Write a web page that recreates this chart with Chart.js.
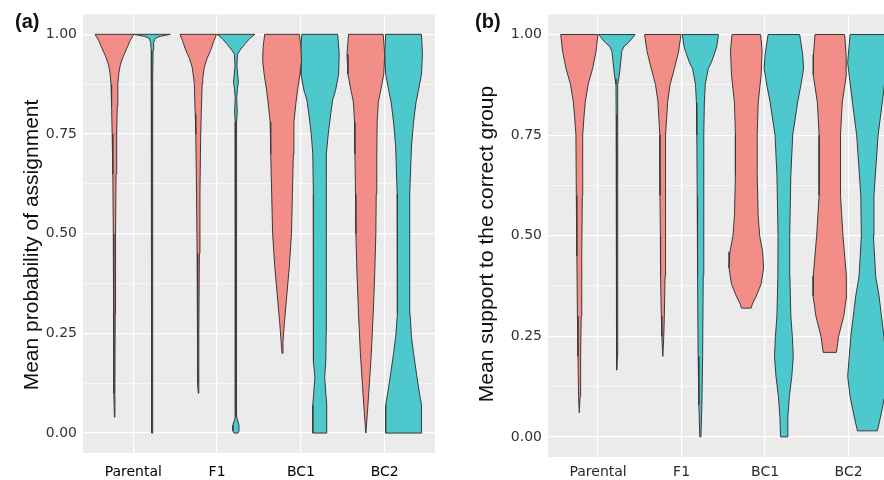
<!DOCTYPE html>
<html>
<head>
<meta charset="utf-8">
<script src="https://cdn.jsdelivr.net/npm/chart.js@4.4.1/dist/chart.umd.min.js"></script>
<style>
  html, body { margin: 0; padding: 0; background: #fff; }
  #wrap { position: relative; width: 884px; height: 480px; overflow: hidden; }
  canvas { position: absolute; top: 0; }
</style>
</head>
<body>
<div id="wrap">
  <canvas id="chartA" width="440" height="480" style="left:0"></canvas>
  <canvas id="chartB" width="444" height="480" style="left:440px"></canvas>
</div>
<script>
// categories and y ticks
const groups = ["Parental", "F1", "BC1", "BC2"];
const yMajor = [0, 0.25, 0.5, 0.75, 1];
const yMinor = [0.125, 0.375, 0.625, 0.875];

// violin outlines: [value, relative half-width]
// panel (a) - mean probability of assignment
const aPinkParental = [[1.00,1.03],[0.985,0.84],[0.965,0.66],[0.945,0.47],[0.925,0.32],[0.905,0.24],[0.875,0.18],[0.82,0.15],[0.75,0.12],[0.65,0.085],[0.5,0.06],[0.3,0.04],[0.1,0.025],[0.04,0]];
const aCyanParental = [[1.00,0.97],[0.995,0.42],[0.99,0.16],[0.98,0.08],[0.96,0.05],[0.9,0.03],[0.0,0.02]];
const aPinkF1 = [[1.00,0.97],[0.985,0.84],[0.96,0.66],[0.94,0.47],[0.917,0.32],[0.89,0.24],[0.877,0.21],[0.8,0.16],[0.75,0.13],[0.6,0.09],[0.45,0.06],[0.25,0.04],[0.12,0.02],[0.10,0]];
const aCyanF1 = [[1.00,1.0],[0.99,0.74],[0.977,0.5],[0.96,0.21],[0.95,0.08],[0.92,0.05],[0.895,0.1],[0.88,0.13],[0.865,0.08],[0.84,0.04],[0.805,0.07],[0.78,0.04],[0.5,0.03],[0.2,0.025],[0.04,0.04],[0.02,0.16],[0.005,0.16],[0.0,0.1]];
const aPinkBC1 = [[1.00,0.92],[0.97,1.0],[0.935,1.03],[0.9,0.95],[0.86,0.82],[0.83,0.74],[0.78,0.63],[0.7,0.6],[0.6,0.55],[0.5,0.5],[0.42,0.39],[0.35,0.26],[0.28,0.13],[0.23,0.05],[0.2,0]];
const aCyanBC1 = [[1.00,0.95],[0.95,1.03],[0.9,1.0],[0.86,0.84],[0.835,0.68],[0.8,0.58],[0.75,0.45],[0.7,0.37],[0.6,0.34],[0.5,0.34],[0.35,0.34],[0.25,0.34],[0.18,0.32],[0.14,0.26],[0.1,0.32],[0.07,0.37],[0.0,0.37]];
const aPinkBC2 = [[1.00,0.92],[0.95,1.0],[0.9,0.95],[0.86,0.79],[0.83,0.66],[0.78,0.6],[0.7,0.58],[0.6,0.55],[0.5,0.53],[0.4,0.47],[0.3,0.39],[0.2,0.29],[0.12,0.18],[0.05,0.08],[0.0,0]];
const aCyanBC2 = [[1.00,0.95],[0.95,1.0],[0.9,0.95],[0.86,0.79],[0.83,0.66],[0.78,0.53],[0.72,0.42],[0.6,0.34],[0.5,0.32],[0.4,0.32],[0.3,0.34],[0.24,0.42],[0.2,0.53],[0.15,0.68],[0.1,0.84],[0.07,0.95],[0.0,0.95]];

// panel (b) - mean support to the correct group
const bPinkParental = [[1.00,0.99],[0.958,0.89],[0.916,0.71],[0.876,0.47],[0.834,0.32],[0.79,0.24],[0.75,0.18],[0.6,0.16],[0.45,0.13],[0.3,0.1],[0.2,0.07],[0.1,0.04],[0.06,0]];
const bCyanParental = [[1.00,0.97],[0.98,0.62],[0.97,0.37],[0.958,0.26],[0.916,0.17],[0.89,0.1],[0.876,0.05],[0.8,0.04],[0.5,0.04],[0.2,0.03],[0.166,0]];
const bPinkF1 = [[1.00,0.97],[0.958,0.84],[0.916,0.62],[0.876,0.39],[0.834,0.26],[0.75,0.16],[0.6,0.15],[0.5,0.13],[0.4,0.12],[0.3,0.08],[0.25,0.05],[0.2,0]];
const bCyanF1 = [[1.00,0.96],[0.97,0.87],[0.958,0.79],[0.93,0.58],[0.916,0.42],[0.876,0.26],[0.83,0.21],[0.75,0.19],[0.6,0.17],[0.4,0.15],[0.2,0.12],[0.08,0.08],[0.0,0.03]];
const bPinkBC1 = [[1.00,0.76],[0.96,0.84],[0.9,0.79],[0.83,0.63],[0.75,0.58],[0.65,0.58],[0.55,0.63],[0.5,0.71],[0.46,0.87],[0.42,0.92],[0.38,0.79],[0.35,0.53],[0.33,0.32],[0.32,0.26]];
const bCyanBC1 = [[1.00,0.84],[0.95,1.0],[0.916,1.05],[0.87,0.89],[0.834,0.74],[0.75,0.47],[0.65,0.37],[0.5,0.31],[0.4,0.32],[0.3,0.37],[0.25,0.45],[0.2,0.5],[0.15,0.42],[0.1,0.29],[0.05,0.21],[0.0,0.18]];
const bPinkBC2 = [[1.00,0.79],[0.95,0.87],[0.9,0.88],[0.83,0.66],[0.75,0.57],[0.6,0.57],[0.5,0.7],[0.4,0.88],[0.35,0.89],[0.3,0.74],[0.25,0.47],[0.21,0.35]];
const bCyanBC2 = [[1.00,0.92],[0.93,1.05],[0.83,0.79],[0.75,0.57],[0.6,0.35],[0.5,0.32],[0.4,0.44],[0.35,0.62],[0.25,0.88],[0.15,1.05],[0.1,0.92],[0.05,0.7],[0.015,0.53]];

const PINK = "#F28D87";
const CYAN = "#4DC9CD";
const HALF = 0.225;   // half of the dodged violin width
const DODGE = 0.225;

// closed outline: right side bottom->top, then left side top->bottom
function violinPoints(profile, center) {
  const asc = profile.slice().sort((p, q) => p[0] - q[0]);
  const pts = [];
  asc.forEach(([v, w]) => pts.push({ x: center + w * HALF, y: v }));
  asc.slice().reverse().forEach(([v, w]) => pts.push({ x: center - w * HALF, y: v }));
  pts.push(pts[0]);
  return pts;
}

function violinSets(pinks, cyans) {
  const sets = [];
  groups.forEach((g, i) => {
    sets.push({ label: g + " pink", data: violinPoints(pinks[i], i + 1 - DODGE), color: PINK });
    sets.push({ label: g + " cyan", data: violinPoints(cyans[i], i + 1 + DODGE), color: CYAN });
  });
  return sets.map((s) => ({
    label: s.label,
    data: s.data,
    showLine: true,
    fill: "shape",
    backgroundColor: s.color,
    borderColor: "#3a3a3a",
    borderWidth: 1,
    borderJoinStyle: "round",
    pointRadius: 0,
    tension: 0,
  }));
}

// grey panel behind the grid
const panelBg = {
  id: "panelBg",
  beforeDraw(chart) {
    const { ctx, chartArea: a } = chart;
    ctx.save();
    ctx.fillStyle = "#EBEBEB";
    ctx.fillRect(a.left, a.top, a.right - a.left, a.bottom - a.top);
    ctx.restore();
  },
};

// panel tag and rotated y title
const panelText = {
  id: "panelText",
  afterDraw(chart, args, opts) {
    const ctx = chart.ctx;
    ctx.save();
    ctx.fillStyle = "#111";
    ctx.font = "bold 20px 'Liberation Sans', Arial, sans-serif";
    ctx.textAlign = "left";
    ctx.textBaseline = "alphabetic";
    ctx.fillText(opts.tag, opts.tagX, 28);
    ctx.translate(opts.titleX, opts.titleY);
    ctx.rotate(-Math.PI / 2);
    ctx.font = "21px 'Liberation Sans', Arial, sans-serif";
    ctx.fillStyle = "#111";
    ctx.textAlign = "center";
    ctx.textBaseline = "middle";
    ctx.fillText(opts.title, 0, 0);
    ctx.restore();
  },
};

function makeChart(id, pinks, cyans, cfg) {
  return new Chart(document.getElementById(id), {
    type: "scatter",
    data: { datasets: violinSets(pinks, cyans) },
    plugins: [panelBg, panelText],
    options: {
      responsive: false,
      animation: false,
      layout: { padding: { top: cfg.top, right: cfg.right, left: 0, bottom: 0 } },
      scales: {
        x: {
          type: "linear",
          min: 0.4,
          max: cfg.xMax,
          afterBuildTicks: (s) => { s.ticks = groups.map((g, i) => ({ value: i + 1 })); },
          afterFit: (s) => { s.height = cfg.xHeight; },
          border: { display: false },
          grid: { color: "#ffffff", lineWidth: 1.2, drawTicks: false },
          ticks: {
            autoSkip: false,
            maxRotation: 0,
            padding: cfg.xPad,
            color: cfg.xColor,
            font: { family: "DejaVu Sans", size: 14 },
            callback: (v) => groups[Math.round(v) - 1],
          },
        },
        y: {
          type: "linear",
          min: -0.05,
          max: 1.05,
          afterBuildTicks: (s) => {
            s.ticks = yMajor.concat(yMinor).sort((p, q) => p - q).map((v) => ({ value: v }));
          },
          afterFit: (s) => { s.width = cfg.yWidth; },
          border: { display: false },
          grid: {
            color: "#ffffff",
            drawTicks: false,
            lineWidth: (c) => (yMajor.includes(c.tick.value) ? 1.2 : 0.6),
          },
          ticks: {
            autoSkip: false,
            padding: 6,
            color: "#333333",
            font: { family: "DejaVu Sans", size: 14 },
            callback: (v) => (yMajor.includes(v) ? v.toFixed(2) : ""),
          },
        },
      },
      plugins: {
        legend: { display: false },
        tooltip: { enabled: false },
        panelText: cfg.text,
      },
    },
  });
}

makeChart("chartA",
  [aPinkParental, aPinkF1, aPinkBC1, aPinkBC2],
  [aCyanParental, aCyanF1, aCyanBC1, aCyanBC2],
  { top: 14, right: 5, xMax: 4.6, xHeight: 27, xPad: 11, yWidth: 83, xColor: "#000000",
    text: { tag: "(a)", tagX: 15, title: "Mean probability of assignment", titleX: 32, titleY: 245 } });

makeChart("chartB",
  [bPinkParental, bPinkF1, bPinkBC1, bPinkBC2],
  [bCyanParental, bCyanF1, bCyanBC1, bCyanBC2],
  { top: 13, right: 0, xMax: 4.424, xHeight: 23, xPad: 7, yWidth: 108, xColor: "#2a2a2a",
    text: { tag: "(b)", tagX: 35, title: "Mean support to the correct group", titleX: 47, titleY: 244 } });
</script>
</body>
</html>
